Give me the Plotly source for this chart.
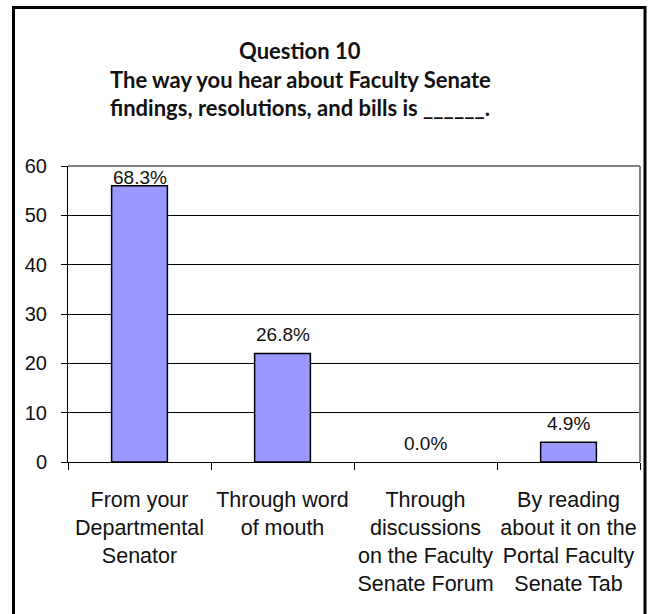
import plotly.graph_objects as go

# Survey responses (counts) and their share of all respondents
categories = [
    "From your<br>Departmental<br>Senator",
    "Through word<br>of mouth",
    "Through<br>discussions<br>on the Faculty<br>Senate Forum",
    "By reading<br>about it on the<br>Portal Faculty<br>Senate Tab",
]
counts = [56, 22, 0, 4]
percent_labels = ["68.3%", "26.8%", "0.0%", "4.9%"]
y_ticks = [0, 10, 20, 30, 40, 50, 60]
title_lines = [
    "Question 10",
    "The way you hear about Faculty Senate",
    "findings, resolutions, and bills is ______.",
]

W, H = 649, 614
PLOT_L, PLOT_R, PLOT_T, PLOT_B = 68, 640, 166, 462
Y_MAX = 60


def px_x(px):
    return (px - PLOT_L) / (PLOT_R - PLOT_L)


def px_y(py):
    return (PLOT_B - py) / (PLOT_B - PLOT_T)


# Empty bars get no outline so nothing shows at zero
outline_widths = [1.5 if v > 0 else 0 for v in counts]

fig = go.Figure()
fig.add_trace(go.Bar(
    x=categories,
    y=counts,
    width=0.39,
    marker=dict(color="#9999FF", line=dict(color="#000000", width=outline_widths)),
    hoverinfo="skip",
))

# Value labels: sit above each bar, but stay inside the plot frame
px_per_unit = (PLOT_B - PLOT_T) / Y_MAX
for cat, val, lab in zip(categories, counts, percent_labels):
    top_px = PLOT_B - val * px_per_unit
    shift = min(19, top_px - (PLOT_T + 12))
    fig.add_annotation(
        x=cat, y=val, xref="x", yref="y",
        text=lab, showarrow=False, yanchor="middle", yshift=shift,
        font=dict(family="Liberation Sans, Arial", size=19, color="#111111"),
    )

# Multi-line title
for py, line in zip([50, 79, 108], title_lines):
    fig.add_annotation(
        x=px_x(300), y=px_y(py), xref="paper", yref="paper",
        text=f"<b>{line}</b>", showarrow=False,
        xanchor="center", yanchor="middle",
        font=dict(family="Lato", size=22, color="#111111"),
    )

# Grey frame on top and right of the plot area
fig.add_shape(type="line", xref="paper", yref="paper", x0=0, x1=1, y0=1, y1=1,
              line=dict(color="#808080", width=2))
fig.add_shape(type="line", xref="paper", yref="paper", x0=1, x1=1, y0=0, y1=1,
              line=dict(color="#808080", width=2))

# Outer chart border
fig.add_shape(type="rect", xref="paper", yref="paper",
              x0=px_x(13.5), x1=px_x(645), y0=px_y(7.5), y1=px_y(625),
              line=dict(color="#000000", width=3), fillcolor="rgba(0,0,0,0)", layer="above")

fig.update_layout(
    width=W, height=H,
    margin=dict(l=PLOT_L, r=W - PLOT_R, t=PLOT_T, b=H - PLOT_B, pad=0, autoexpand=False),
    paper_bgcolor="#ffffff",
    plot_bgcolor="#ffffff",
    showlegend=False,
    bargap=0.61,
)
fig.update_yaxes(
    range=[0, Y_MAX],
    tickvals=y_ticks,
    showgrid=True, gridcolor="#000000", gridwidth=1,
    showline=True, linecolor="#000000", linewidth=1,
    ticks="outside", ticklen=6, tickcolor="#000000",
    ticklabelstandoff=10,
    tickfont=dict(family="Liberation Sans, Arial", size=20, color="#111111"),
    zeroline=False,
    automargin=False,
    fixedrange=True,
)
fig.update_xaxes(
    type="category",
    tickson="boundaries",
    tickangle=0,
    showline=True, linecolor="#000000", linewidth=1,
    ticks="outside", ticklen=7, tickcolor="#000000",
    ticklabelstandoff=18,
    tickfont=dict(family="Liberation Sans, Arial", size=21.5, color="#111111"),
    showgrid=False,
    automargin=False,
    fixedrange=True,
)

fig.write_html("out.html")
